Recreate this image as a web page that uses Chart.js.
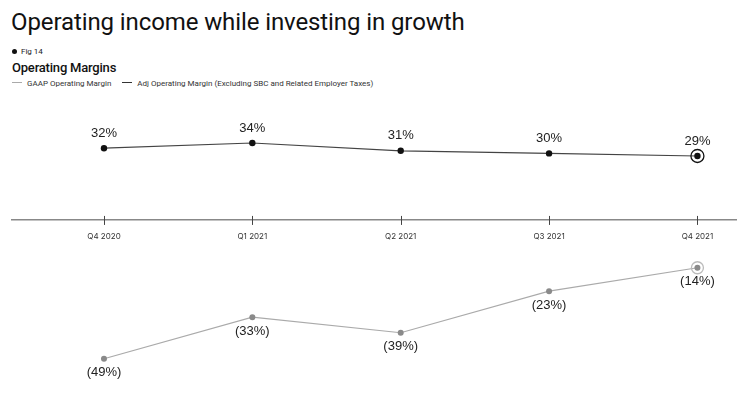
<!DOCTYPE html>
<html>
<head>
<meta charset="utf-8">
<script src="https://cdn.jsdelivr.net/npm/chart.js@4.4.1/dist/chart.umd.min.js"></script>
<style>
    body { margin: 0; background: #fff; font-family: Roboto, "Liberation Sans", sans-serif; color: #111; }
    #wrap { position: relative; width: 740px; height: 396px; overflow: hidden; }
    #title { position: absolute; left: 11px; top: 8px; font-size: 24px; font-weight: 400; letter-spacing: -0.1px; }
    #fig { position: absolute; left: 12px; top: 47px; font-size: 8px; color: #222; }
    #fig span { display: inline-block; width: 5px; height: 5px; border-radius: 50%; background: #111; margin-right: 4px; vertical-align: 0px; }
    #sub { position: absolute; left: 12px; top: 60px; font-size: 13px; font-weight: 500; letter-spacing: -0.2px; }
    #legend { position: absolute; left: 12px; top: 79px; font-size: 8px; color: #333; }
    #legend i { display: inline-block; width: 10px; height: 1px; vertical-align: 3px; margin-right: 5px; }
    #chartBox { position: absolute; left: 0; top: 100px; width: 740px; height: 296px; }
</style>
</head>
<body>
<div id="wrap">
    <div id="title">Operating income while investing in growth</div>
    <div id="fig"><span></span>Fig 14</div>
    <div id="sub">Operating Margins</div>
    <div id="legend">
        <i style="background:#aaa"></i>GAAP Operating Margin
        <i style="background:#333; margin-left:9px"></i>Adj Operating Margin (Excluding SBC and Related Employer Taxes)
    </div>
    <div id="chartBox"><canvas id="chart"></canvas></div>
</div>
<script>
    const quarters = ["Q4 2020", "Q1 2021", "Q2 2021", "Q3 2021", "Q4 2021"];
    const adjMargin = [32, 34, 31, 30, 29];
    const gaapMargin = [-49, -33, -39, -23, -14];

    let axisAt = 4.4;

    // labels for every point, above for adj, below for gaap
    const pointLabels = {
        id: "pointLabels",
        afterDatasetsDraw: function (chart) {
            let ctx = chart.ctx;
            ctx.save();
            ctx.font = "13px 'Liberation Sans', Arial, sans-serif";
            ctx.fillStyle = "#222";
            ctx.textAlign = "center";
            ctx.textBaseline = "middle";
            chart.data.datasets.forEach(function (ds, di) {
                let meta = chart.getDatasetMeta(di);
                meta.data.forEach(function (pt, i) {
                    let v = ds.data[i].y;
                    if (v >= 0) {
                        ctx.fillText(v + "%", pt.x, pt.y - 15);
                    } else {
                        ctx.fillText("(" + Math.abs(v) + "%)", pt.x, pt.y + 14);
                    }
                });
                // ring on latest quarter
                let last = meta.data[meta.data.length - 1];
                ctx.beginPath();
                ctx.arc(last.x, last.y, di === 1 ? 6.5 : 6, 0, Math.PI * 2);
                ctx.lineWidth = 1.3;
                ctx.strokeStyle = di === 1 ? "#111" : "#bbb";
                ctx.stroke();
            });
            // tick marks crossing the axis
            let xs = chart.scales.x;
            let ay = chart.scales.y.getPixelForValue(axisAt);
            ctx.strokeStyle = "#444";
            ctx.lineWidth = 1;
            quarters.forEach(function (q, i) {
                let px = Math.round(xs.getPixelForValue(i)) + 0.5;
                ctx.beginPath();
                ctx.moveTo(px, ay - 4);
                ctx.lineTo(px, ay + 5);
                ctx.stroke();
            });
            ctx.restore();
        }
    };

    new Chart(document.getElementById("chart"), {
        type: "line",
        data: {
            datasets: [{
                label: "GAAP Operating Margin",
                data: gaapMargin.map(function (v, i) { return {x: i, y: v}; }),
                borderColor: "#aaa",
                borderWidth: 1.2,
                pointBackgroundColor: "#8a8a8a",
                pointBorderWidth: 0,
                pointRadius: 3,
                tension: 0
            }, {
                label: "Adj Operating Margin (Excluding SBC and Related Employer Taxes)",
                data: adjMargin.map(function (v, i) { return {x: i, y: v}; }),
                borderColor: "#444",
                borderWidth: 1.2,
                pointBackgroundColor: "#111",
                pointBorderWidth: 0,
                pointRadius: 3.2,
                tension: 0
            }]
        },
        options: {
            responsive: true,
            maintainAspectRatio: false,
            animation: false,
            layout: {padding: {left: 12, right: 0, top: 0, bottom: 0}},
            plugins: {legend: {display: false}, tooltip: {enabled: false}},
            scales: {
                x: {
                    type: "linear",
                    position: {y: axisAt},
                    min: -0.62,
                    max: 4.26,
                    afterBuildTicks: function (scale) {
                        scale.ticks = quarters.map(function (q, i) { return {value: i}; });
                    },
                    grid: {display: false},
                    border: {display: true, color: "#888", width: 1.5},
                    ticks: {
                        padding: 4,
                        maxRotation: 0,
                        autoSkip: false,
                        color: "#333",
                        font: {size: 8, family: "Inter, 'Liberation Sans', sans-serif"},
                        callback: function (v) { return quarters[v]; }
                    }
                },
                y: {
                    display: false,
                    min: -61.8,
                    max: 49
                }
            }
        },
        plugins: [pointLabels]
    });
</script>
</body>
</html>
